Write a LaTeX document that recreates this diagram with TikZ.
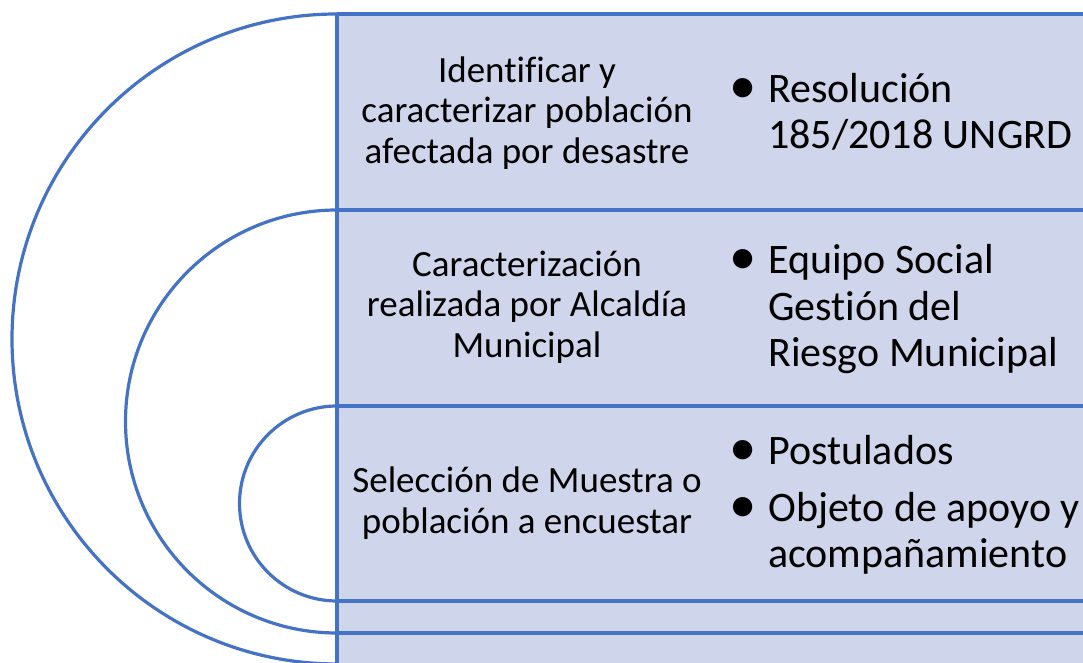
\documentclass[tikz,border=0pt]{standalone}
\usepackage{fontspec}
\setmainfont{Carlito}[Ligatures=NoCommon]
\usetikzlibrary{positioning}
\definecolor{bandfill}{HTML}{CFD5EA}
\definecolor{bandline}{HTML}{4472C4}
\newcommand{\blt}{\raisebox{-1pt}{\scalebox{1.3}{\textbullet}}}
\tikzset{
  band/.style={draw=bandline, line width=3.2pt},
  ring/.style={draw=bandline, line width=3.2pt},
  lefttext/.style={align=center, font=\fontsize{37}{40.5}\selectfont, inner sep=0pt},
  righttext/.style={anchor=west, font=\fontsize{42}{46.5}\selectfont, inner sep=0pt}
}
\begin{document}
\begin{tikzpicture}[x=1pt,y=1pt]
	\clip (0,0) rectangle (1083,663);
	
	% background of the bands
	\fill[bandfill] (337,-10) rectangle (1100,649);
	
	\coordinate (t1) at (337,649);
	\coordinate (t2) at (337,453);
	\coordinate (t3) at (337,257);
	\coordinate (b3) at (337,62);
	\coordinate (b2) at (337,30);
	\coordinate (b1) at (337,-1);
	\coordinate (e1) at (1100,649);
	\coordinate (e2) at (1100,453);
	\coordinate (e3) at (1100,257);
	\coordinate (f3) at (1100,62);
	\coordinate (f2) at (1100,30);
	\coordinate (bot) at (337,-10);
	
	\draw[band] (t1) -- (e1);
	\draw[band] (t2) -- (e2);
	\draw[band] (t3) -- (e3);
	\draw[band] (b3) -- (f3);
	\draw[band] (b2) -- (f2);
	\draw[band] (t1) -- (bot);
	
	% half rings
	\draw[ring] (t1) arc[start angle=90, end angle=270, radius=325];
	\draw[ring] (t2) arc[start angle=90, end angle=270, radius=211.5];
	\draw[ring] (t3) arc[start angle=90, end angle=270, radius=97.5];
	
	\node[lefttext] (l1) at (527,550) {Identificar y\\caracterizar población\\afectada por desastre};
	\node[lefttext] (l2) at (527,356) {Caracterización\\realizada por Alcaldía\\Municipal};
	\node[lefttext] (l3) at (527,160) {Selección de Muestra o\\población a encuestar};
	
	\node[righttext] (r1) at (729,547) {\begin{tabular}{@{}p{39pt}@{}l@{}}\blt & Resolución\\ & 185/2018 UNGRD\end{tabular}};
	\node[righttext] (r2) at (729,352) {\begin{tabular}{@{}p{39pt}@{}l@{}}\blt & Equipo Social\\ & Gestión del\\ & Riesgo Municipal\end{tabular}};
	\node[righttext] (r3) at (729,156) {\begin{tabular}{@{}p{39pt}@{}l@{}}\blt & Postulados\\[10pt] \blt & Objeto de apoyo y\\ & acompañamiento\end{tabular}};
	
\end{tikzpicture}
\end{document}
